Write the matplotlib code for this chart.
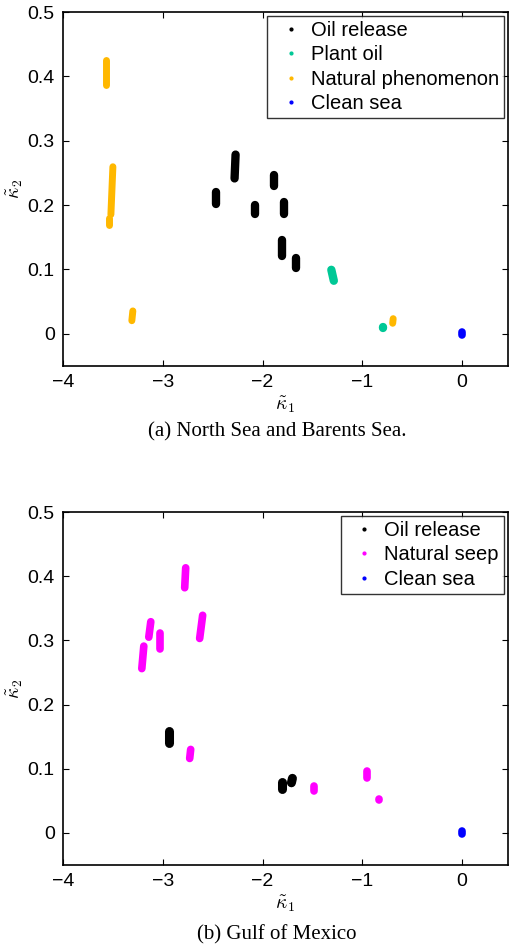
import matplotlib
matplotlib.use('Agg')
from matplotlib import pyplot as plt
from matplotlib.lines import Line2D

plt.rcParams['font.family'] = ['Liberation Sans', 'DejaVu Sans']
plt.rcParams['mathtext.fontset'] = 'cm'

# cluster extents: (x at top, x at bottom, y top, y bottom)
# (a) North Sea and Barents Sea
ns_oil = [(-2.465, -2.465, 0.227, 0.196), (-2.27, -2.28, 0.285, 0.235),
          (-1.88, -1.88, 0.254, 0.224), (-2.08, -2.08, 0.207, 0.179),
          (-1.78, -1.78, 0.212, 0.180), (-1.80, -1.80, 0.152, 0.115),
          (-1.66, -1.66, 0.124, 0.096)]
ns_plant = [(-1.31, -1.285, 0.106, 0.076), (-0.79, -0.79, 0.017, 0.002)]
ns_natural = [(-3.57, -3.57, 0.431, 0.382), (-3.50, -3.52, 0.265, 0.180),
              (-3.535, -3.535, 0.185, 0.163), (-3.30, -3.31, 0.041, 0.015),
              (-0.69, -0.695, 0.029, 0.011)]
ns_clean = [(0.0, 0.0, 0.009, -0.008)]

# (b) Gulf of Mexico
gm_oil = [(-2.94, -2.94, 0.166, 0.133), (-1.80, -1.80, 0.086, 0.061),
          (-1.70, -1.71, 0.092, 0.071)]
gm_seep = [(-3.19, -3.21, 0.297, 0.250), (-3.12, -3.14, 0.335, 0.299),
           (-3.03, -3.03, 0.318, 0.281), (-2.77, -2.78, 0.419, 0.376),
           (-2.60, -2.63, 0.345, 0.297), (-2.72, -2.73, 0.136, 0.110),
           (-1.48, -1.48, 0.079, 0.060), (-0.95, -0.95, 0.102, 0.079),
           (-0.83, -0.83, 0.059, 0.045)]
gm_clean = [(0.0, 0.0, 0.009, -0.008)]

c_oil = 'black'
c_plant = '#00C896'
c_nat = '#FFB800'
c_seep = '#FF00FF'
c_clean = '#0000FF'

yticks = [0, 0.1, 0.2, 0.3, 0.4, 0.5]
yticklabels = ['0', '0.1', '0.2', '0.3', '0.4', '0.5']
xticks = [-4, -3, -2, -1, 0]
xticklabels = ['\u22124', '\u22123', '\u22122', '\u22121', '0']


def drawClusters(fig, ax, clusters, color, width):
	# shorten each stroke by its round cap so the blob spans the given range
	ylo, yhi = ax.get_ylim()
	pxPerUnit = ax.bbox.height / (yhi - ylo)
	cap = width * fig.dpi / 72. / 2. / pxPerUnit
	for xt, xb, yt, yb in clusters:
		ax.plot([xb, xt], [yb + cap, yt - cap], color=color, lw=width, solid_capstyle='round')


def setupAxes(ax):
	ax.set_xlim(-4, 0.46)
	ax.set_ylim(-0.05, 0.5)
	ax.set_xticks(xticks)
	ax.set_xticklabels(xticklabels)
	ax.set_yticks(yticks)
	ax.set_yticklabels(yticklabels)
	ax.tick_params(direction='in', length=4, width=0.8, labelsize=14, top=True, right=True, pad=6)
	for s in ax.spines.values():
		s.set_linewidth(1.2)
	ax.set_xlabel(r'$\tilde{\kappa}_1$', fontsize=14, labelpad=2)
	ax.set_ylabel(r'$\tilde{\kappa}_2$', fontsize=14, labelpad=2)


def makeLegend(ax, entries):
	handles = [Line2D([], [], ls='none', marker='.', ms=4, color=c) for c, _ in entries]
	labels = [l for _, l in entries]
	leg = ax.legend(handles, labels, loc='upper right', fontsize=14.5, frameon=True, fancybox=False,
					edgecolor='black', handletextpad=0.1, borderpad=0.25, labelspacing=0.26,
					borderaxespad=0.2, handlelength=1.8)
	leg.get_frame().set_linewidth(1.0)


fig = plt.figure(figsize=(5.09, 9.48), dpi=100)
ax1 = fig.add_axes([0.1238, 0.6139, 0.874, 0.3734])
ax2 = fig.add_axes([0.1238, 0.0876, 0.874, 0.3723])

setupAxes(ax1)
drawClusters(fig, ax1, ns_oil, c_oil, 6)
drawClusters(fig, ax1, ns_plant, c_plant, 6)
drawClusters(fig, ax1, ns_natural, c_nat, 5)
drawClusters(fig, ax1, ns_clean, c_clean, 5.5)
makeLegend(ax1, [(c_oil, 'Oil release'), (c_plant, 'Plant oil'),
				(c_nat, 'Natural phenomenon'), (c_clean, 'Clean sea')])

setupAxes(ax2)
drawClusters(fig, ax2, gm_oil, c_oil, 6.5)
drawClusters(fig, ax2, gm_seep, c_seep, 5.5)
drawClusters(fig, ax2, gm_clean, c_clean, 5.5)
makeLegend(ax2, [(c_oil, 'Oil release'), (c_seep, 'Natural seep'), (c_clean, 'Clean sea')])

fig.text(0.544, 1 - 432 / 948., '(a) North Sea and Barents Sea.', ha='center', va='center',
		fontsize=15, family='Liberation Serif')
fig.text(0.544, 1 - 935 / 948., '(b) Gulf of Mexico', ha='center', va='center',
		fontsize=15, family='Liberation Serif')

plt.savefig('out.png', dpi=100)
plt.close()
